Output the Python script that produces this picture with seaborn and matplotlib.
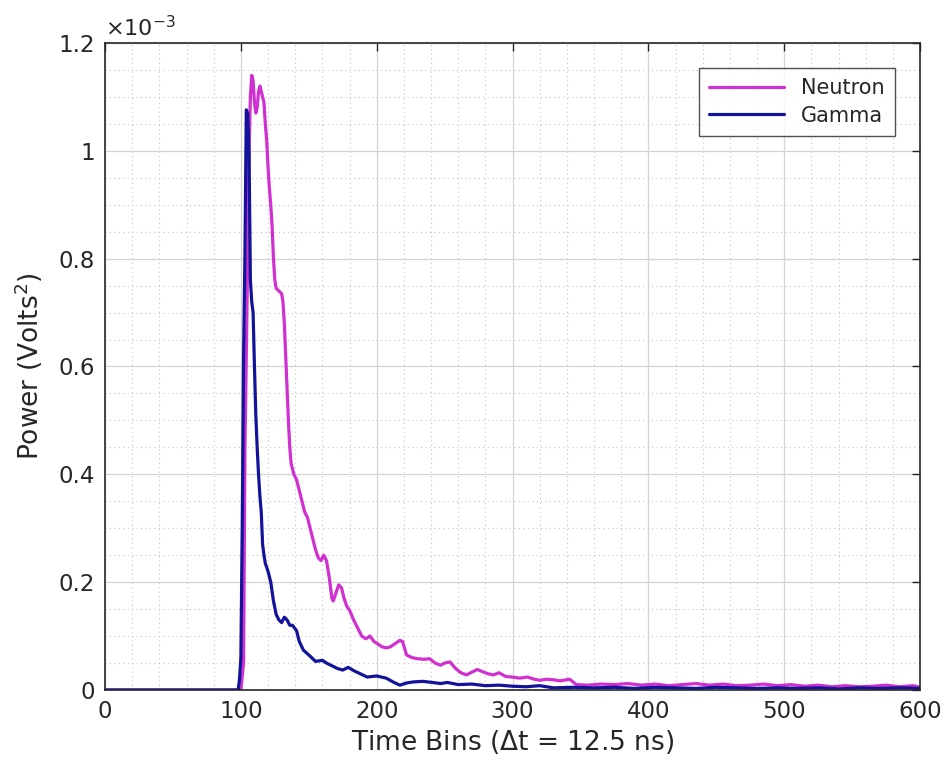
import pandas as pd
import matplotlib.pyplot as plt
import matplotlib.ticker as mticker
import seaborn as sns

# values, power in units of 1e-3 Volts^2
neutron_bins = [0, 100, 102, 103, 104, 105, 106, 107, 108, 109, 110, 111, 112, 113, 114,
                115, 116, 117, 118, 119, 120, 121, 122, 123, 124, 125, 126, 128, 130, 131,
                132, 133, 134, 135, 136, 137, 139, 141, 143, 145, 147, 149, 151, 153, 155,
                157, 159, 161, 163, 165, 167, 168, 170, 172, 174, 176, 178, 180, 183, 186,
                189, 192, 195, 198, 201, 204, 207, 210, 213, 217, 219, 222, 226, 230, 235,
                239, 243, 247, 250, 254, 258, 262, 266, 270, 274, 278, 282, 286, 290, 295,
                300, 305, 311, 316, 320, 325, 330, 335, 342, 347, 355, 365, 375, 385, 395,
                405, 415, 425, 435, 445, 455, 465, 475, 485, 495, 505, 515, 525, 535, 545,
                555, 565, 575, 585, 595, 600]
neutron_e3 = [0.0, 0.0, 0.05, 0.45, 0.62, 0.80, 1.00, 1.10, 1.14, 1.13, 1.09, 1.07, 1.08, 1.11, 1.12,
              1.11, 1.10, 1.09, 1.05, 1.02, 0.97, 0.93, 0.90, 0.86, 0.80, 0.76, 0.745, 0.74, 0.735, 0.72,
              0.68, 0.62, 0.56, 0.50, 0.45, 0.42, 0.40, 0.39, 0.37, 0.35, 0.33, 0.32, 0.30, 0.28, 0.26,
              0.245, 0.24, 0.25, 0.24, 0.21, 0.17, 0.165, 0.18, 0.195, 0.19, 0.17, 0.155, 0.148, 0.13, 0.115,
              0.10, 0.095, 0.10, 0.09, 0.085, 0.08, 0.078, 0.08, 0.085, 0.092, 0.09, 0.065, 0.06, 0.058, 0.057,
              0.058, 0.05, 0.046, 0.05, 0.052, 0.04, 0.032, 0.028, 0.033, 0.038, 0.034, 0.03, 0.028, 0.032, 0.025,
              0.024, 0.022, 0.024, 0.02, 0.018, 0.02, 0.019, 0.017, 0.02, 0.01, 0.009, 0.011, 0.01, 0.012, 0.009,
              0.011, 0.008, 0.01, 0.012, 0.009, 0.011, 0.008, 0.009, 0.011, 0.008, 0.01, 0.007, 0.009, 0.006, 0.008,
              0.006, 0.007, 0.009, 0.006, 0.008, 0.005]

gamma_bins = [0, 98, 99, 100, 101, 102, 103, 104, 105, 106, 107, 108, 109, 110, 111,
              112, 113, 114, 115, 116, 117, 118, 120, 122, 124, 126, 128, 130, 132, 134,
              136, 138, 141, 143, 146, 150, 155, 160, 163, 167, 171, 175, 179, 183, 188,
              193, 200, 207, 212, 217, 222, 227, 234, 241, 247, 252, 260, 270, 280, 290,
              300, 310, 320, 330, 345, 360, 375, 390, 405, 420, 435, 450, 465, 480, 495,
              510, 525, 540, 555, 570, 585, 600]
gamma_e3 = [0.0, 0.0, 0.02, 0.06, 0.30, 0.62, 0.81, 1.076, 1.07, 1.00, 0.76, 0.72, 0.70, 0.60, 0.51,
            0.45, 0.40, 0.36, 0.33, 0.27, 0.25, 0.235, 0.22, 0.20, 0.165, 0.14, 0.13, 0.125, 0.135, 0.13,
            0.12, 0.12, 0.11, 0.09, 0.074, 0.065, 0.053, 0.055, 0.05, 0.045, 0.04, 0.037, 0.042, 0.036, 0.03,
            0.024, 0.026, 0.022, 0.015, 0.009, 0.013, 0.015, 0.016, 0.014, 0.012, 0.014, 0.01, 0.011, 0.008, 0.009,
            0.007, 0.006, 0.008, 0.004, 0.005, 0.004, 0.005, 0.003, 0.005, 0.004, 0.003, 0.005, 0.004, 0.003, 0.004,
            0.003, 0.004, 0.002, 0.004, 0.003, 0.004, 0.003]

labels = ["Neutron", "Gamma"]
colors = ["#d030d0", "#12129a"]

df = pd.concat([
    pd.DataFrame({"bin": neutron_bins, "power": neutron_e3, "type": labels[0]}),
    pd.DataFrame({"bin": gamma_bins, "power": gamma_e3, "type": labels[1]}),
])

sns.set_style("white")
plt.rcParams['font.family'] = ['DejaVu Sans']
ink = "#262626"

fig = plt.figure(figsize=(9.48, 7.70), dpi=100)
ax = fig.add_axes([0.1108, 0.1039, 0.8597, 0.8403])

sns.lineplot(data=df, x="bin", y="power", hue="type", hue_order=labels,
             palette=dict(zip(labels, colors)), linewidth=2.3, ax=ax, sort=False)

ax.set_xlim(0, 600)
ax.set_ylim(0, 1.2)
ax.xaxis.set_major_locator(mticker.MultipleLocator(100))
ax.xaxis.set_minor_locator(mticker.MultipleLocator(20))
ax.yaxis.set_major_locator(mticker.MultipleLocator(0.2))
ax.yaxis.set_minor_locator(mticker.MultipleLocator(0.05))
ax.yaxis.set_major_formatter(mticker.FuncFormatter(lambda v, p: f"{v:g}"))

ax.grid(True, which="major", color="#d4d4d4", linestyle="-", linewidth=0.9)
ax.grid(True, which="minor", color="#c4c4c4", linestyle=(0, (1, 3)), linewidth=0.8)
ax.set_axisbelow(True)

ax.tick_params(which="major", direction="in", top=True, right=True, length=6, width=1,
               color=ink, labelcolor=ink, labelsize=16.5, pad=7)
ax.tick_params(which="minor", length=0)
for s in ax.spines.values():
    s.set_color(ink)
    s.set_linewidth(1.2)

ax.set_xlabel("Time Bins ($\\Delta$t = 12.5 ns)", fontsize=19, color=ink, labelpad=4)
ax.set_ylabel("Power (Volts$^2$)", fontsize=19, color=ink, labelpad=10)
ax.text(0.0, 1.005, r"$\times10^{-3}$", transform=ax.transAxes, fontsize=16,
        color=ink, ha="left", va="bottom")

leg = ax.legend(loc="upper right", fontsize=15, frameon=True, fancybox=False,
                edgecolor=ink, handlelength=3.6, borderaxespad=1.2, labelspacing=0.35,
                borderpad=0.5)
leg.get_frame().set_linewidth(1.0)
for t in leg.get_texts():
    t.set_color(ink)

fig.savefig("out.png", dpi=100)
